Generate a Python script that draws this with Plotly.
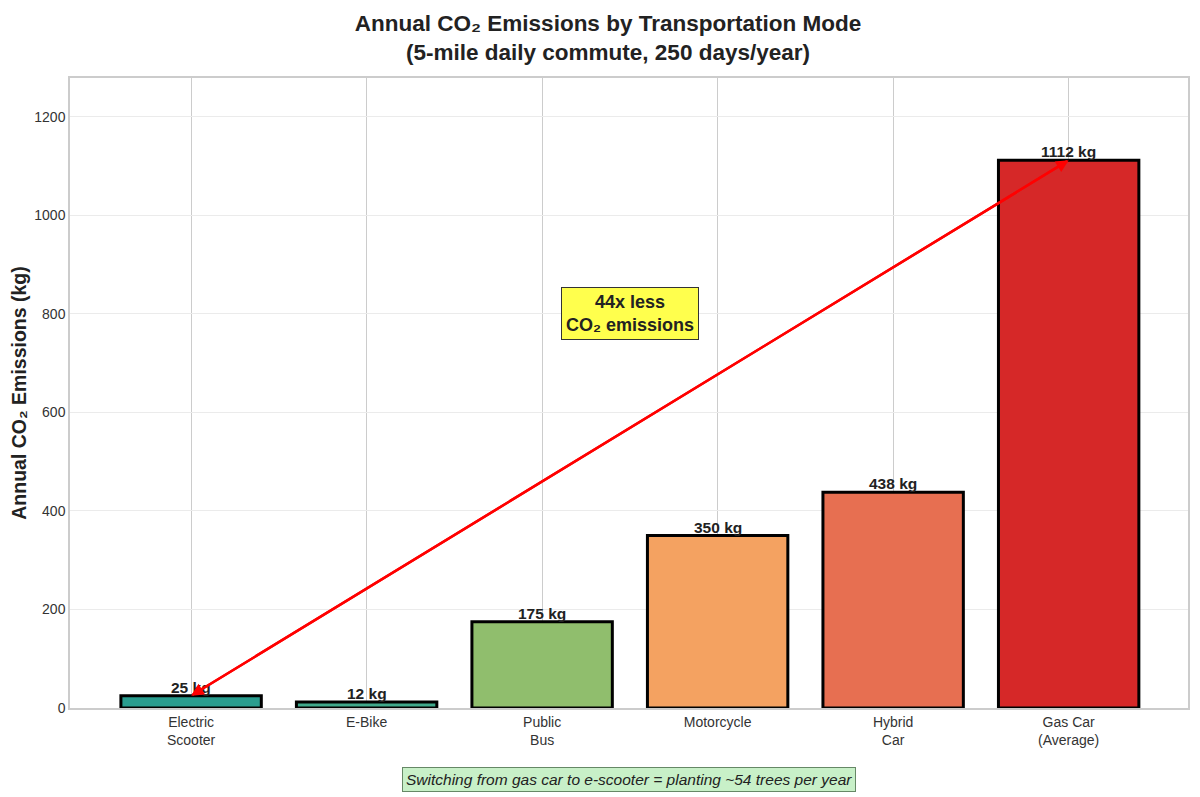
import plotly.graph_objects as go

modes = ["Electric<br>Scooter", "E-Bike", "Public<br>Bus", "Motorcycle", "Hybrid<br>Car", "Gas Car<br>(Average)"]
emissions = [25, 12, 175, 350, 438, 1112]
colors = ["#2a9d8f", "#40a98b", "#90be6d", "#f4a261", "#e76f51", "#d62828"]
y_ticks = [0, 200, 400, 600, 800, 1000, 1200]

FONT = "Liberation Sans, Arial, sans-serif"
x_idx = list(range(len(modes)))

fig = go.Figure()
fig.add_trace(go.Bar(
    x=x_idx, y=emissions, width=0.8,
    marker=dict(color=colors, line=dict(color="black", width=3)),
    hoverinfo="skip",
))

annotations = []
for i, v in enumerate(emissions):
    annotations.append(dict(
        x=i, y=v, xref="x", yref="y", text=f"<b>{v} kg</b>", showarrow=False,
        yanchor="bottom", yshift=-2, font=dict(size=15.5, color="#222", family=FONT)))

# double-headed arrow between gas car and e-scooter
annotations.append(dict(
    x=x_idx[0], y=emissions[0], ax=x_idx[-1], ay=emissions[-1],
    xref="x", yref="y", axref="x", ayref="y", text="", showarrow=True,
    arrowhead=2, arrowsize=1, arrowwidth=2.5, arrowcolor="#ff0000", standoff=0))
annotations.append(dict(
    x=x_idx[-1], y=emissions[-1], ax=x_idx[0], ay=emissions[0],
    xref="x", yref="y", axref="x", ayref="y", text="", showarrow=True,
    arrowhead=2, arrowsize=1, arrowwidth=2.5, arrowcolor="#ff0000", standoff=0))

annotations.append(dict(
    x=2.5, y=800, xref="x", yref="y",
    text="<b>44x less<br>CO₂ emissions</b>", showarrow=False,
    font=dict(size=18, color="#222", family=FONT),
    bgcolor="#ffff4d", bordercolor="#333", borderwidth=1, borderpad=4))

annotations.append(dict(
    x=0.5, y=-0.113, xref="paper", yref="paper", yanchor="middle",
    text="<i>Switching from gas car to e-scooter = planting ~54 trees per year</i>",
    showarrow=False, font=dict(size=15.5, color="#222", family=FONT),
    bgcolor="#c8f0c8", bordercolor="#668866", borderwidth=1, borderpad=3))

fig.update_layout(
    width=1200, height=797,
    paper_bgcolor="white", plot_bgcolor="white",
    margin=dict(l=62, r=20, t=70, b=97),
    title=dict(text="<b>Annual CO₂ Emissions by Transportation Mode<br>(5-mile daily commute, 250 days/year)</b>",
               x=0.5, xanchor="center", y=0.971, yanchor="middle",
               font=dict(size=22.5, color="#222", family=FONT)),
    font=dict(family=FONT, color="#333"),
    showlegend=False,
    annotations=annotations,
    bargap=0.2,
)

fig.update_xaxes(
    tickmode="array", tickvals=x_idx, ticktext=modes, range=[-0.69, 5.68],
    showgrid=True, gridcolor="#cccccc", gridwidth=1, automargin=False,
    showline=True, linecolor="#cccccc", linewidth=1.5, mirror=True,
    tickfont=dict(size=14, color="#333"), ticks="", zeroline=False)
fig.update_yaxes(
    tickmode="array", tickvals=y_ticks, range=[0, 1279],
    showgrid=True, gridcolor="#ebebeb", gridwidth=1, automargin=False,
    showline=True, linecolor="#cccccc", linewidth=1.5, mirror=True,
    tickfont=dict(size=14, color="#333"), ticks="", zeroline=False,
    title=dict(text="<b>Annual CO₂ Emissions (kg)</b>", font=dict(size=19.5, color="#222"), standoff=20))

fig.write_html("out.html")
